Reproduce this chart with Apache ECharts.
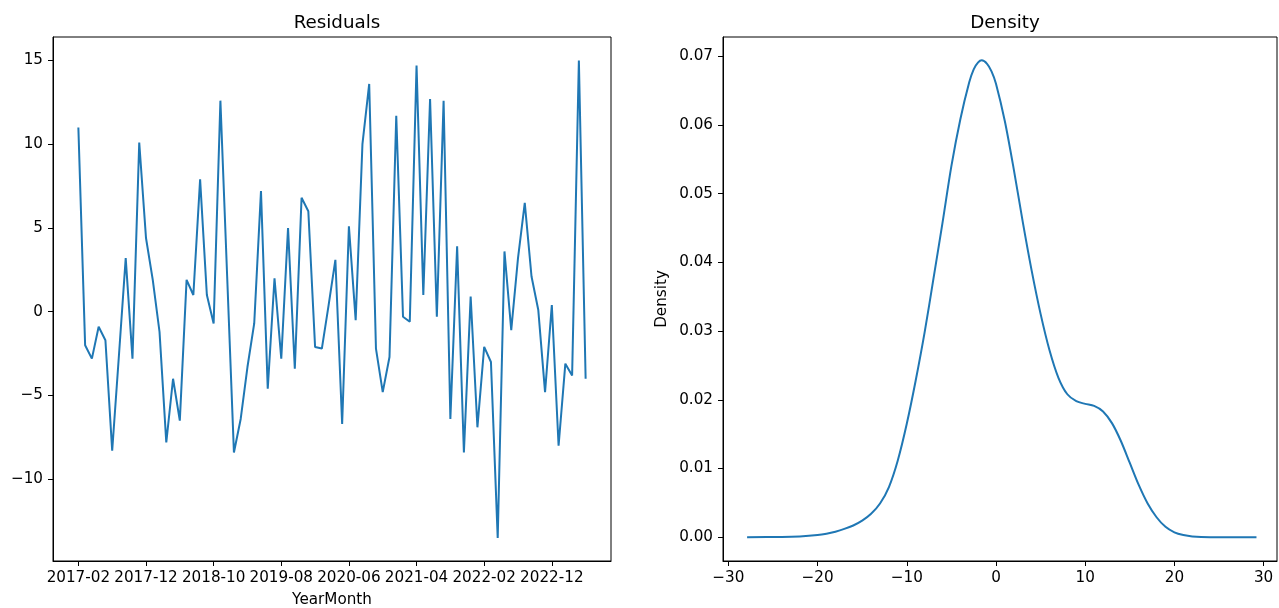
<!DOCTYPE html>
<html lang="en">
<head>
<meta charset="utf-8">
<title>Residuals</title>
<script src="https://cdn.jsdelivr.net/npm/echarts@6/dist/echarts.min.js"></script>
<style>
  html, body { margin: 0; padding: 0; background: #fff; }
  #main { width: 1279px; height: 608px; }
</style>
</head>
<body>
<div id="main"></div>
<script type="text/javascript">
// monthly residuals, first month 2017-02
let startYear = 2017, startMonth = 2;
let residuals = [
  11.0, -2.0, -2.8, -0.9, -1.7, -8.3, -2.6, 3.2, -2.8, 10.1,
  4.4, 1.9, -1.2, -7.8, -4.0, -6.5, 1.9, 1.0, 7.9, 1.0,
  -0.7, 12.6, 2.1, -8.4, -6.4, -3.3, -0.7, 7.2, -4.6, 2.0,
  -2.8, 5.0, -3.4, 6.8, 6.0, -2.1, -2.2, 0.4, 3.1, -6.7,
  5.1, -0.5, 10.0, 13.6, -2.2, -4.8, -2.7, 11.7, -0.3, -0.6,
  14.7, 1.0, 12.7, -0.3, 12.6, -6.4, 3.9, -8.4, 0.9, -6.9,
  -2.1, -3.0, -13.5, 3.6, -1.1, 3.2, 6.5, 2.1, 0.1, -4.8,
  0.4, -8.0, -3.1, -3.8, 15.0, -4.0
];
let xTickIdx = [0, 10, 20, 30, 40, 50, 60, 70];
let yTicksLeft = [-10, -5, 0, 5, 10, 15];

// density curve
let densX = [-27.9, -24, -22, -20, -19, -18, -17, -16, -15, -14, -13, -12, -11, -10, -9, -8, -7, -6, -5, -4,
  -3, -2.5, -2, -1.6, -1, -0.5, 0, 1, 2, 3, 4, 5, 6, 7, 8, 9, 10, 11, 12, 13,
  14, 15, 16, 17, 18, 19, 20, 21, 22, 24, 29.2];
let densY = [0, 0.00002, 0.0001, 0.0003, 0.0005, 0.0008, 0.0012, 0.0017, 0.0024, 0.0034, 0.0049, 0.0073, 0.0112, 0.0165, 0.0228, 0.0298, 0.0377, 0.0457, 0.054, 0.0608,
  0.0662, 0.0681, 0.0691, 0.0694, 0.0689, 0.0678, 0.0660, 0.0605, 0.0535, 0.0459, 0.0388, 0.0325, 0.0272, 0.0232, 0.0208, 0.0198, 0.0194, 0.0191, 0.0183, 0.0166,
  0.014, 0.0108, 0.0076, 0.0049, 0.0029, 0.0015, 0.0007, 0.0003, 0.0001, 0, 0];
let xTicksRight = [-30, -20, -10, 0, 10, 20, 30];
let yTicksRight = [0, 0.01, 0.02, 0.03, 0.04, 0.05, 0.06, 0.07];

function monthLabel(i) {
  let m = startMonth - 1 + i;
  let y = startYear + Math.floor(m / 12);
  let mm = (m % 12) + 1;
  return y + '-' + (mm < 10 ? '0' + mm : mm);
}
function minus(v) {
  return String(v).replace('-', '\u2212');
}

let font = 'DejaVu Sans';
let blue = '#1f77b4';
let tickFont = 15.2;
let titleFont = 18.3;
let axisCommon = {
  axisLine: { show: true, onZero: false, lineStyle: { color: '#000', width: 1 } },
  axisTick: { show: true, length: 5, lineStyle: { color: '#000', width: 1 } },
  splitLine: { show: false },
  axisLabel: { color: '#000', fontFamily: font, fontSize: tickFont, margin: 10 }
};

let chart = echarts.init(document.getElementById('main'), null, { renderer: 'canvas' });
let option = {
  animation: false,
  backgroundColor: '#fff',
  textStyle: { fontFamily: font },
  title: [
    { text: 'Residuals', left: 332, top: 9, textAlign: 'center',
      textStyle: { fontFamily: font, fontWeight: 'normal', fontSize: titleFont, color: '#000' } },
    { text: 'Density', left: 1000, top: 9, textAlign: 'center',
      textStyle: { fontFamily: font, fontWeight: 'normal', fontSize: titleFont, color: '#000' } }
  ],
  grid: [
    { left: 53, top: 37, width: 558, height: 524, outerBoundsMode: 'none', containLabel: false,
      show: true, borderColor: '#000', borderWidth: 1, backgroundColor: 'transparent' },
    { left: 723, top: 37, width: 554, height: 524, outerBoundsMode: 'none', containLabel: false,
      show: true, borderColor: '#000', borderWidth: 1, backgroundColor: 'transparent' }
  ],
  xAxis: [
    Object.assign({}, axisCommon, {
      type: 'value', gridIndex: 0, min: -3.75, max: 78.75,
      name: 'YearMonth', nameLocation: 'middle', nameGap: 32,
      nameTextStyle: { color: '#000', fontFamily: font, fontSize: tickFont },
      axisTick: Object.assign({}, axisCommon.axisTick, { customValues: xTickIdx }),
      axisLabel: Object.assign({}, axisCommon.axisLabel, {
        customValues: xTickIdx,
        formatter: function (v) { return monthLabel(Math.round(v)); }
      })
    }),
    Object.assign({}, axisCommon, {
      type: 'value', gridIndex: 1, min: -30.6, max: 31.5,
      axisTick: Object.assign({}, axisCommon.axisTick, { customValues: xTicksRight }),
      axisLabel: Object.assign({}, axisCommon.axisLabel, {
        customValues: xTicksRight,
        formatter: function (v) { return minus(v); }
      })
    })
  ],
  yAxis: [
    Object.assign({}, axisCommon, {
      type: 'value', gridIndex: 0, min: -14.88, max: 16.4,
      axisTick: Object.assign({}, axisCommon.axisTick, { customValues: yTicksLeft }),
      axisLabel: Object.assign({}, axisCommon.axisLabel, {
        customValues: yTicksLeft,
        formatter: function (v) { return minus(v); }
      })
    }),
    Object.assign({}, axisCommon, {
      type: 'value', gridIndex: 1, min: -0.00347, max: 0.0728,
      name: 'Density', nameLocation: 'middle', nameGap: 53, nameRotate: 90,
      nameTextStyle: { color: '#000', fontFamily: font, fontSize: tickFont },
      axisTick: Object.assign({}, axisCommon.axisTick, { customValues: yTicksRight }),
      axisLabel: Object.assign({}, axisCommon.axisLabel, {
        customValues: yTicksRight,
        formatter: function (v) { return v.toFixed(2); }
      })
    })
  ],
  series: [
    {
      type: 'line', xAxisIndex: 0, yAxisIndex: 0,
      data: residuals.map(function (v, i) { return [i, v]; }),
      showSymbol: false, lineStyle: { color: blue, width: 2 }, itemStyle: { color: blue }
    },
    {
      type: 'line', xAxisIndex: 1, yAxisIndex: 1,
      data: densX.map(function (x, i) { return [x, densY[i]]; }),
      showSymbol: false, smooth: 0.3, lineStyle: { color: blue, width: 2 }, itemStyle: { color: blue }
    }
  ]
};
chart.setOption(option);
</script>
</body>
</html>
